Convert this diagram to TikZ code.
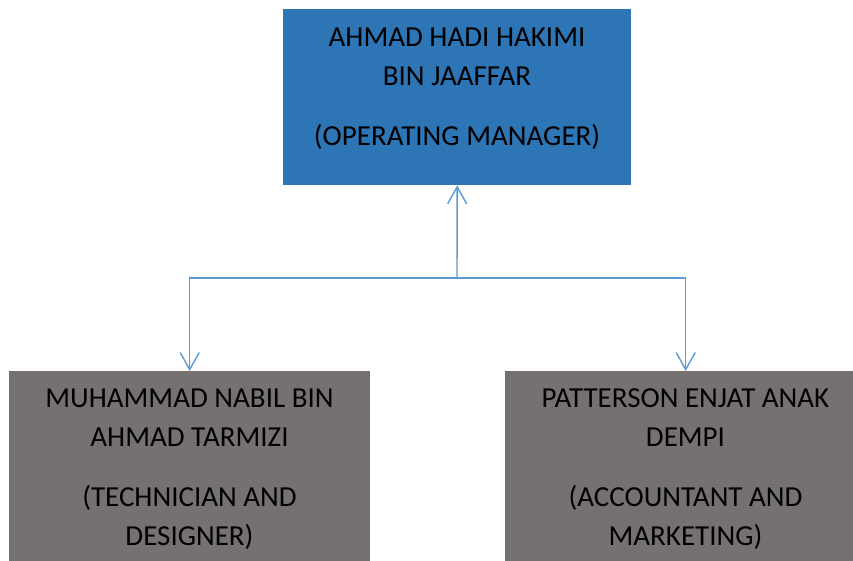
\documentclass[tikz,border=0pt]{standalone}
\usepackage{fontspec}
\setmainfont{Carlito}
\usetikzlibrary{arrows.meta}
\definecolor{topblue}{HTML}{2E75B6}
\definecolor{boxgray}{HTML}{767171}
\definecolor{linkblue}{HTML}{5B9BD5}
\begin{document}
\begin{tikzpicture}[x=1pt,y=-1pt,
  box/.style={draw=none, inner sep=0pt, anchor=north west, minimum width=361pt},
  txt/.style={align=center, anchor=base, inner sep=0pt, text=black,
    font=\fontsize{29}{39}\selectfont},
  link/.style={draw=linkblue, line width=1.4pt,
    -{Straight Barb[length=17pt, width=19pt, line width=1.4pt]}}]
\useasboundingbox (0,0) rectangle (853,561);
\clip (0,0) rectangle (853,561);
\fill[white] (0,0) rectangle (853,561);
\node[box, fill=topblue, minimum width=348pt, minimum height=176pt] (top) at (283,9) {};
\node[box, fill=boxgray, minimum height=200pt] (left) at (9,371) {};
\node[box, fill=boxgray, minimum height=200pt] (right) at (505,371) {};
% anchor=base sits on the last line's baseline
\node[txt] (toptext) at (457,146) {AHMAD HADI HAKIMI\\BIN JAAFFAR\\[21pt](OPERATING MANAGER)};
\node[txt] (lefttext) at (189.5,545) {MUHAMMAD NABIL BIN\\AHMAD TARMIZI\\[21pt](TECHNICIAN AND\\DESIGNER)};
\node[txt] (righttext) at (685.5,545) {PATTERSON ENJAT ANAK\\DEMPI\\[21pt](ACCOUNTANT AND\\MARKETING)};
\coordinate (j) at (457,278);
\draw[link] (j) -- (top.south);
\draw[link] (j) -| (left.north);
\draw[link] (j) -| (right.north);
\end{tikzpicture}
\end{document}
